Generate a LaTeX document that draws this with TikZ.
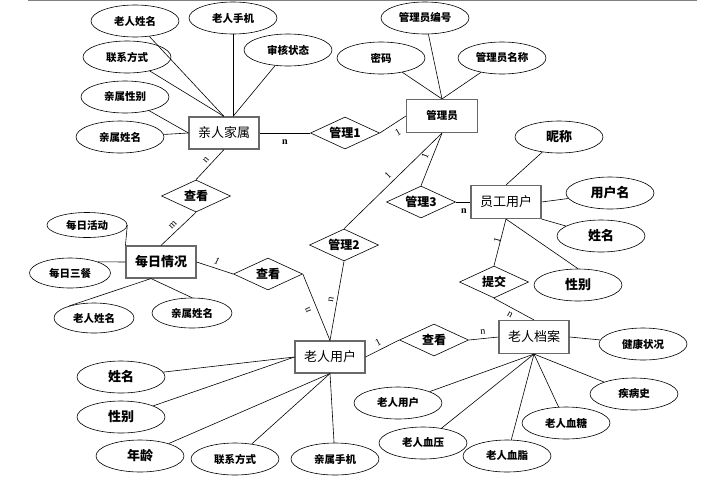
\documentclass[tikz,border=0pt]{standalone}
\usepackage{fontspec}
\setmainfont{Liberation Serif}
\newfontfamily\cjk{Noto Sans CJK SC}
\usetikzlibrary{shapes.geometric}
\definecolor{boxgray}{RGB}{105,105,105}
\tikzset{
  ent/.style={draw=boxgray, line width=1.1pt, minimum width=70pt, minimum height=32pt, inner sep=0pt, font=\cjk\fontsize{13}{13}\selectfont},
  entb/.style={ent, font=\cjk\bfseries\fontsize{13}{13}\selectfont},
  ents/.style={ent, font=\cjk\bfseries\fontsize{10.5}{10.5}\selectfont},
  rel/.style={diamond, draw, line width=0.6pt, aspect=2.15, minimum width=69pt, minimum height=32pt, inner sep=0pt, font=\cjk\bfseries\fontsize{12}{12}\selectfont},
  attr/.style={ellipse, draw, line width=0.6pt, minimum width=88pt, minimum height=32pt, inner sep=0pt, font=\cjk\bfseries\fontsize{10.5}{10.5}\selectfont},
  attrb/.style={attr, font=\cjk\bfseries\fontsize{13}{13}\selectfont},
  attrs/.style={attr, minimum width=80pt, minimum height=30pt},
  lab/.style={inner sep=0pt, font=\fontsize{10}{10}\selectfont},
  labb/.style={inner sep=0pt, font=\bfseries\fontsize{10}{10}\selectfont},
  conn/.style={line width=0.6pt}
}
\begin{document}
\begin{tikzpicture}[x=1pt,y=-1pt]
\useasboundingbox (0,0) rectangle (704,488);
\draw[line width=1.5pt, gray] (28,0.6) -- (697,0.6);
% entities
\node[ent]  (qs)  at (224,133) {亲人家属};
\node[ents, minimum width=71pt, minimum height=33pt] (gly) at (442,116) {管理员};
\node[ent, minimum height=33pt]  (yg)  at (506,202) {员工用户};
\node[entb] (mr)  at (161,262) {每日情况};
\node[ent]  (lr)  at (330,357) {老人用户};
\node[ent, minimum height=33pt]  (da)  at (534,337) {老人档案};
% relationships
\node[rel] (g1)  at (345,133) {管理1};
\node[rel] (ck1) at (196,196) {查看};
\node[rel] (g2)  at (344,245) {管理2};
\node[rel] (g3)  at (421,202) {管理3};
\node[rel] (ck2) at (268,274) {查看};
\node[rel] (tj)  at (494,282) {提交};
\node[rel] (ck3) at (434,340) {查看};
% attributes of 亲人家属
\node[attr] (a1) at (135,21) {老人姓名};
\node[attr] (a2) at (233,18) {老人手机};
\node[attr] (a3) at (288,50) {审核状态};
\node[attr] (a4) at (127,57) {联系方式};
\node[attr] (a5) at (125,97) {亲属性别};
\node[attr] (a6) at (120,137) {亲属姓名};
% attributes of 管理员
\node[attr] (b1) at (425,18) {管理员编号};
\node[attr] (b2) at (381,58) {密码};
\node[attr] (b3) at (502,58) {管理员名称};
% attributes of 员工用户
\node[attrb] (c1) at (559,137) {昵称};
\node[attrb] (c2) at (610,193) {用户名};
\node[attrb] (c3) at (601,236) {姓名};
\node[attrb] (c4) at (578,285) {性别};
% attributes of 每日情况
\node[attrs, minimum height=25pt] (d1) at (87,225) {每日活动};
\node[attrs, minimum width=81pt] (d2) at (70,273) {每日三餐};
\node[attrs] (d3) at (94,318) {老人姓名};
\node[attrs] (d4) at (192,313) {亲属姓名};
% attributes of 老人用户
\node[attrb] (e1) at (121,377) {姓名};
\node[attrb] (e2) at (121,417) {性别};
\node[attrb] (e3) at (140,456) {年龄};
\node[attr]  (e4) at (235,459) {联系方式};
\node[attr]  (e5) at (335,459) {亲属手机};
% attributes of 老人档案
\node[attr] (f1) at (643,344) {健康状况};
\node[attr] (f2) at (634,394) {疾病史};
\node[attr] (f3) at (566,423) {老人血糖};
\node[attr] (f4) at (507,456) {老人血脂};
\node[attr] (f5) at (423,443) {老人血压};
\node[attr] (f6) at (398,403) {老人用户};
% attribute connectors
\draw[conn] (a1) -- (qs.north);
\draw[conn] (a4) -- (qs.north);
\draw[conn] (a2) -- ([xshift=9pt]qs.north);
\draw[conn] (a3) -- ([xshift=9pt]qs.north);
\draw[conn] (a5) -- (qs.west);
\draw[conn] (a6) -- (qs.west);
\draw[conn] (b1) -- (gly.north);
\draw[conn] (b2) -- (gly.north);
\draw[conn] (b3) -- (gly.north);
\draw[conn] (c1) -- (yg.north);
\draw[conn] (c2) -- (yg.east);
\draw[conn] (c3) -- (yg.south east);
\draw[conn] (c4.north) -- (yg.south);
\draw[conn] (d1.east) -- (mr.north west);
\draw[conn] (d2.22) -- (mr.west);
\draw[conn] (d3.154) -- ([xshift=-10pt]mr.south);
\draw[conn] (d4.north) -- ([xshift=-10pt]mr.south);
\draw[conn] (e1) -- (lr.west);
\draw[conn] (e2) -- (lr.west);
\draw[conn] (e3) -- (lr.south);
\draw[conn] (e4) -- (lr.south);
\draw[conn] (e5) -- (lr.south);
\draw[conn] (f1) -- (da.east);
\draw[conn] (f2) -- (da.south);
\draw[conn] (f3) -- (da.south);
\draw[conn] (f4) -- (da.south);
\draw[conn] (f5) -- (da.south);
\draw[conn] (f6) -- (da.south);
% relationship connectors
\draw[conn] (qs.east) -- (g1.west);
\draw[conn] (g1.east) -- (gly.west);
\draw[conn] (qs.south) -- (ck1.north);
\draw[conn] (ck1.south) -- (mr.north);
\draw[conn] (mr.east) -- (ck2.west);
\draw[conn] (ck2.east) -- (lr.north);
\draw[conn] (g2.south) -- (lr.north);
\draw[conn] (g2.north) -- (gly.south);
\draw[conn] (g3.north) -- (gly.south);
\draw[conn] (g3.east) -- (yg.west);
\draw[conn] (yg.south) -- (tj.north);
\draw[conn] (tj.south) -- (da.north);
\draw[conn] (lr.east) -- (ck3.west);
\draw[conn] (ck3.east) -- (da.west);
% cardinality labels
\node[labb] (l1) at (285,142) {n};
\node[lab, rotate=48] (l2) at (206,160) {n};
\node[lab, rotate=45] (l3) at (173,225) {m};
\node[lab, rotate=-18] (l4) at (217,261) {\itshape 1};
\node[lab, rotate=112] (l5) at (308,310) {n};
\node[lab, rotate=80] (l6) at (331,300) {n};
\node[lab, rotate=44] (l7) at (388,175) {1};
\node[lab, rotate=68] (l8) at (425,156) {1};
\node[lab, rotate=30] (l9) at (398,132) {1};
\node[labb] (l10) at (464,211) {n};
\node[lab, rotate=75] (l11) at (497,240) {1};
\node[lab, rotate=-30] (l12) at (510,315) {n};
\node[lab, rotate=28] (l13) at (378,342) {1};
\node[lab, rotate=5] (l14) at (483,332) {n};
\end{tikzpicture}
\end{document}
